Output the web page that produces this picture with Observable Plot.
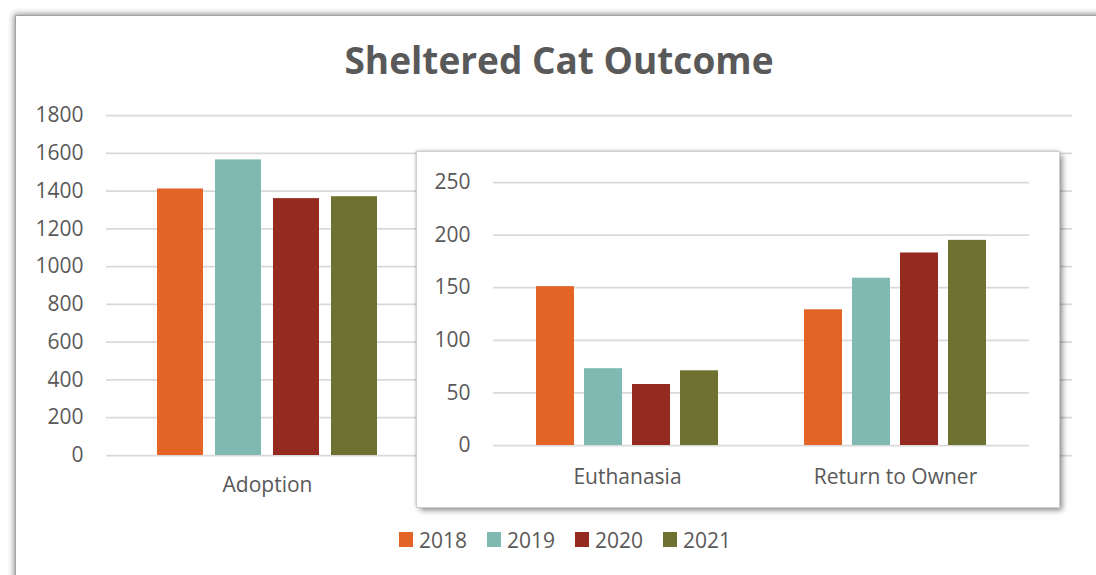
<!DOCTYPE html>
<html>
<head>
<meta charset="utf-8">
<script src="https://cdn.jsdelivr.net/npm/d3@7"></script>
<script src="https://cdn.jsdelivr.net/npm/@observablehq/plot@0.6"></script>
<style>
  html, body { margin: 0; padding: 0; background: #ffffff; overflow: hidden; width: 1096px; height: 575px; }
  #frame { position: absolute; left: 16px; top: 16px; width: 1110px; height: 600px; background: #fff;
           box-shadow: 0 0 0 1px #a3a3a3, 0 0 6px 2px rgba(0,0,0,0.45); }
  #main { position: absolute; left: 0; top: 0; }
  #title { position: absolute; left: 0; top: 41px; width: 1118px; text-align: center;
           font-family: 'Open Sans'; font-weight: 700; font-size: 37px; line-height: 37px; color: #595959; }
  #inset { position: absolute; left: 417px; top: 152px; width: 642px; height: 355px; background: #fff;
           box-shadow: 0 0 0 1px #cfcfcf, 3px 3px 6px rgba(0,0,0,0.5), -1px -1px 3px rgba(0,0,0,0.25); }
  #legend { position: absolute; left: 399px; top: 523px; }
  .lg-swatch { margin-right: 20px !important; }
  .lg-swatch > svg { margin-right: 6px !important; }
</style>
</head>
<body>
<div id="frame"></div>
<div id="main"></div>
<div id="title"></div>
<div id="legend"></div>
<div id="inset"></div>
<script>
const title = "Sheltered Cat Outcome";
const categories = ["Adoption", "Euthanasia", "Return to Owner"];
const mainLabels = ["Adoption"];
const insetCategories = ["Euthanasia", "Return to Owner"];
const years = ["2018", "2019", "2020", "2021"];
const colors = ["#E36425", "#7FB9B2", "#952B20", "#6E712F"];
const adoption = [1411, 1565, 1360, 1370];
const euthanasia = [151, 73, 58, 71];
const returnToOwner = [129, 159, 183, 195];
const mainTicks = [0, 200, 400, 600, 800, 1000, 1200, 1400, 1600, 1800];
const insetTicks = [0, 50, 100, 150, 200, 250];

const seriesByCategory = {"Adoption": adoption, "Euthanasia": euthanasia, "Return to Owner": returnToOwner};
const rows = categories.flatMap(c => years.map((y, i) => ({category: c, year: y, value: seriesByCategory[c][i]})));
const insetRows = rows.filter(r => insetCategories.includes(r.category));

document.getElementById("title").textContent = title;

const textStyle = {fontFamily: "'Open Sans'", fontSize: "21px", color: "#595959", background: "transparent", overflow: "visible"};
const plain = d => String(d);

const mainPlot = Plot.plot({
  width: 1096, height: 520,
  marginLeft: 105, marginRight: 24, marginTop: 115, marginBottom: 65,
  style: textStyle,
  fx: {domain: categories, padding: 0, label: null, ticks: mainLabels, tickSize: 0, tickPadding: 22},
  x: {domain: years, axis: null, paddingInner: 0.21, paddingOuter: 0.875},
  y: {domain: [0, 1800], ticks: mainTicks, tickFormat: plain, tickSize: 0, tickPadding: 23, label: null},
  color: {domain: years, range: colors},
  marks: [
    Plot.ruleY(mainTicks, {stroke: "#d9d9d9", strokeWidth: 1.75}),
    Plot.barY(rows, {fx: "category", x: "year", y: "value", fill: "year"})
  ]
});
document.getElementById("main").appendChild(mainPlot);

const insetPlot = Plot.plot({
  width: 642, height: 355,
  marginLeft: 76, marginRight: 30, marginTop: 30, marginBottom: 62,
  style: textStyle,
  fx: {domain: insetCategories, padding: 0, label: null, tickSize: 0, tickPadding: 24},
  x: {domain: years, axis: null, paddingInner: 0.21, paddingOuter: 0.875},
  y: {domain: [0, 250], ticks: insetTicks, tickFormat: plain, tickSize: 0, tickPadding: 23, label: null},
  color: {domain: years, range: colors},
  marks: [
    Plot.ruleY(insetTicks, {stroke: "#d9d9d9", strokeWidth: 1.75}),
    Plot.barY(insetRows, {fx: "category", x: "year", y: "value", fill: "year"})
  ]
});
document.getElementById("inset").appendChild(insetPlot);

const legend = Plot.legend({
  color: {type: "categorical", domain: years, range: colors},
  swatchWidth: 14, swatchHeight: 15,
  className: "lg",
  style: {fontFamily: "'Open Sans'", fontSize: "21px", color: "#595959"}
});
document.getElementById("legend").appendChild(legend);
</script>
</body>
</html>
